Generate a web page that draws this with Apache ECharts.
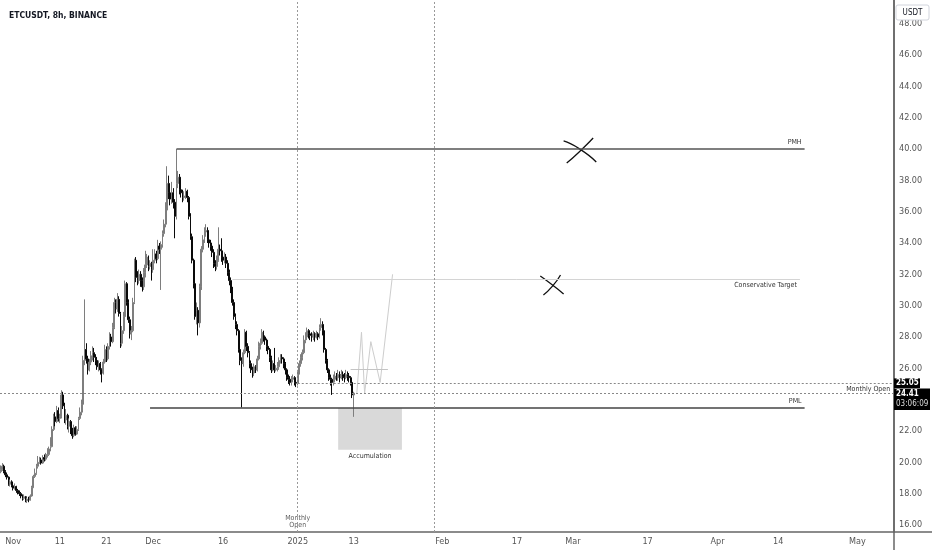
<!DOCTYPE html>
<html><head><meta charset="utf-8">
<script src="https://cdn.jsdelivr.net/npm/echarts@6/dist/echarts.min.js"></script>
<style>html,body{margin:0;padding:0;background:#fff}#c{width:932px;height:550px}</style>
</head><body><div id="c"></div>
<script>
// ETCUSDT 8h candles: [open, close, low, high], first candle 2024-10-29 08:00 UTC
const candles = [
[19.40,19.55,19.30,19.80],[19.55,19.75,19.45,19.95],[19.75,19.40,19.30,19.85],[19.40,19.20,19.05,19.50],
[19.20,19.05,18.90,19.35],[19.05,18.60,18.50,19.10],[18.60,18.75,18.45,18.90],[18.75,18.50,18.40,18.85],
[18.50,18.35,18.20,18.60],[18.35,18.45,18.25,18.65],[18.45,18.20,18.05,18.50],[18.20,18.05,17.95,18.30],
[18.05,18.00,17.85,18.20],[18.00,17.85,17.70,18.10],[17.85,17.70,17.55,17.95],[17.70,17.80,17.60,17.95],
[17.80,17.55,17.45,17.85],[17.55,17.65,17.40,17.75],[17.65,17.60,17.45,17.80],[17.60,17.85,17.55,17.95],
[17.85,18.40,17.80,18.50],[18.40,19.10,18.35,19.20],[19.10,19.30,19.00,19.60],[19.30,19.75,19.20,19.90],
[19.75,20.00,19.60,20.40],[20.00,20.15,19.90,20.35],[20.15,19.95,19.85,20.30],[19.95,20.30,19.90,20.45],
[20.30,20.20,20.05,20.50],[20.20,20.45,20.10,20.60],[20.45,20.50,20.30,20.90],[20.50,20.85,20.40,21.00],
[20.85,21.00,20.70,21.60],[21.00,22.10,20.95,22.30],[22.10,22.90,22.00,23.10],[22.90,22.60,22.30,23.20],
[22.60,23.30,22.50,23.60],[23.30,22.80,22.60,23.50],[22.80,22.90,22.50,23.10],[22.90,24.30,22.80,24.60],
[24.30,23.60,23.40,24.50],[23.60,22.70,22.50,23.80],[22.70,23.00,22.40,23.40],[23.00,22.30,22.10,23.10],
[22.30,22.60,21.90,22.80],[22.60,22.00,21.80,22.70],[22.00,21.70,21.50,22.20],[21.70,22.20,21.60,22.40],
[22.20,21.80,21.70,22.30],[21.80,22.10,21.75,22.30],[22.10,22.80,22.00,22.90],[22.80,23.20,22.70,23.50],
[23.20,23.70,23.00,24.00],[23.70,26.50,23.60,26.80],[26.50,27.20,26.20,30.40],[27.20,26.60,26.30,27.60],
[26.60,25.90,25.60,26.80],[25.90,26.40,25.80,26.60],[26.40,26.80,26.20,27.10],[26.80,27.00,26.50,27.40],
[27.00,26.70,26.40,27.30],[26.70,26.50,26.20,26.90],[26.50,26.10,25.90,26.70],[26.10,26.30,25.80,26.50],
[26.30,25.90,25.60,26.40],[25.90,25.70,25.10,26.00],[25.70,26.40,25.60,26.60],[26.40,27.20,26.30,27.50],
[27.20,26.60,26.40,27.40],[26.60,27.40,26.50,27.60],[27.40,28.00,27.20,28.30],[28.00,27.70,27.40,28.20],
[27.70,28.60,27.60,28.90],[28.60,30.20,28.50,30.50],[30.20,29.80,29.50,30.40],[29.80,30.40,29.60,30.80],
[30.40,29.50,29.30,30.60],[29.50,27.60,27.30,29.60],[27.60,28.40,27.40,28.70],[28.40,29.30,28.20,29.60],
[29.30,31.40,29.20,31.60],[31.40,30.20,30.00,31.50],[30.20,29.10,28.90,30.40],[29.10,28.20,27.90,29.30],
[28.20,28.40,27.80,28.70],[28.40,30.20,28.30,30.50],[30.20,32.90,30.10,33.00],[32.90,31.80,31.50,33.10],
[31.80,31.60,31.30,32.20],[31.60,32.00,31.40,32.30],[32.00,31.60,31.20,32.20],[31.60,31.20,30.90,31.80],
[31.20,32.10,31.00,32.40],[32.10,32.60,31.80,33.50],[32.60,33.10,32.40,33.30],[33.10,32.50,32.20,33.20],
[32.50,32.70,32.30,32.90],[32.70,32.30,31.60,32.80],[32.30,32.90,32.10,33.60],[32.90,33.30,32.70,33.60],
[33.30,33.00,32.70,33.50],[33.00,33.80,32.90,34.20],[33.80,33.60,33.30,34.00],[33.60,33.90,31.00,34.10],
[33.90,34.60,33.70,34.80],[34.60,35.20,34.40,35.50],[35.20,36.10,35.00,36.60],[36.10,37.80,36.00,38.90],
[37.80,37.20,36.80,38.30],[37.20,36.80,36.40,37.60],[36.80,37.20,36.50,37.90],[37.20,36.60,36.20,37.50],
[36.60,35.70,34.30,36.80],[35.70,37.80,35.50,40.00],[37.80,38.20,37.50,38.60],[38.20,37.40,37.10,38.40],
[37.40,37.20,36.90,37.70],[37.20,36.90,36.60,37.40],[36.90,37.00,36.70,37.30],[37.00,37.30,36.80,37.50],
[37.30,36.90,36.60,37.40],[36.90,35.70,35.50,37.00],[35.70,34.40,34.20,35.90],[34.40,32.90,32.70,34.60],
[32.90,31.40,31.10,33.00],[31.40,29.30,29.10,31.50],[29.30,29.70,28.80,30.20],[29.70,28.90,28.10,29.90],
[28.90,31.20,28.60,31.40],[31.20,33.60,31.00,33.80],[33.60,34.20,33.40,34.50],[34.20,34.70,34.00,35.00],
[34.70,34.80,34.40,35.20],[34.80,34.20,34.00,35.00],[34.20,34.00,33.70,34.50],[34.00,33.80,33.50,34.20],
[33.80,33.40,33.10,34.00],[33.40,32.70,32.40,33.60],[32.70,32.50,32.20,32.90],[32.50,32.90,32.30,33.20],
[32.90,33.60,32.80,35.00],[33.60,33.50,33.20,33.90],[33.50,33.10,32.80,34.30],[33.10,32.90,32.60,33.30],
[32.90,33.10,32.70,33.40],[33.10,32.70,32.40,33.30],[32.70,32.10,31.90,32.90],[32.10,31.60,31.30,32.30],
[31.60,31.00,30.80,31.80],[31.00,30.20,30.00,31.20],[30.20,29.30,29.10,30.40],[29.30,28.80,28.50,29.50],
[28.80,28.40,28.10,29.00],[28.40,27.20,27.00,28.50],[27.20,26.50,26.20,27.40],[26.50,26.30,23.50,26.70],
[26.30,27.00,26.10,27.20],[27.00,28.30,26.90,28.50],[28.30,27.40,27.10,28.40],[27.40,27.00,26.70,27.60],
[27.00,26.30,26.00,27.10],[26.30,25.90,25.70,26.50],[25.90,25.70,25.40,26.10],[25.70,26.10,25.50,26.30],
[26.10,25.90,25.70,26.20],[25.90,26.60,25.80,26.80],[26.60,27.40,26.50,27.70],[27.40,27.60,27.20,27.90],
[27.60,28.30,27.50,28.50],[28.30,28.00,27.70,28.40],[28.00,27.80,27.50,28.10],[27.80,27.40,27.10,27.90],
[27.40,27.20,26.90,27.50],[27.20,26.70,26.40,27.30],[26.70,25.90,25.70,26.80],[25.90,26.30,25.80,26.50],
[26.30,25.90,25.70,27.30],[25.90,26.00,25.80,26.20],[26.00,26.10,25.80,26.40],[26.10,26.50,25.90,26.70],
[26.50,26.70,26.30,26.90],[26.70,26.60,26.30,26.90],[26.60,26.30,26.00,26.70],[26.30,25.90,25.60,26.40],
[25.90,25.40,25.20,26.00],[25.40,25.30,25.00,25.60],[25.30,25.10,24.90,25.50],[25.10,25.30,24.90,25.50],
[25.30,25.40,25.10,25.60],[25.40,25.10,24.90,25.50],[25.10,25.05,24.80,25.40],[25.05,25.70,24.90,25.90],
[25.70,26.30,25.60,26.50],[26.30,26.70,26.10,26.90],[26.70,27.00,26.50,27.20],[27.00,27.80,26.90,28.10],
[27.80,28.00,27.60,28.30],[28.00,28.40,27.80,28.60],[28.40,28.20,27.90,28.50],[28.20,28.10,27.80,28.40],
[28.10,28.00,27.70,28.30],[28.00,28.20,27.80,28.40],[28.20,28.00,27.70,28.30],[28.00,28.20,27.90,28.40],
[28.20,28.00,27.80,28.30],[28.00,28.60,27.90,28.80],[28.60,28.80,28.40,29.20],[28.80,28.40,28.10,29.00],
[28.40,27.20,27.00,28.50],[27.20,26.50,26.30,27.30],[26.50,25.90,25.70,26.60],[25.90,25.40,25.20,26.00],
[25.40,25.30,24.90,25.60],[25.30,25.10,24.30,25.40],[25.10,25.30,24.90,25.60],[25.30,25.50,25.10,25.80],
[25.50,25.40,25.20,25.70],[25.40,25.60,25.20,25.90],[25.60,25.40,25.10,25.80],[25.40,25.60,25.30,25.90],
[25.60,25.50,25.20,25.80],[25.50,25.40,25.10,25.70],[25.40,25.60,25.30,25.90],[25.60,25.50,25.20,25.80],
[25.50,25.40,25.10,25.70],[25.40,25.10,24.90,25.50],[25.10,24.30,24.10,25.20],[24.30,24.41,22.90,24.50]
];

// x-axis tick labels (category → text)
const xTickDates = ['2024-11-01 00','2024-11-11 00','2024-11-21 00','2024-12-01 00','2024-12-16 00','2025-01-01 00','2025-01-13 00','2025-02-01 00','2025-02-17 00','2025-03-01 00','2025-03-17 00','2025-04-01 00','2025-04-14 00','2025-05-01 00'];
const xTickLabels = ['Nov','11','21','Dec','16','2025','13','Feb','17','Mar','17','Apr','14','May'];
// y-axis tick labels
const yTickValues = [16,18,20,22,24,26,28,30,32,34,36,38,40,42,44,46,48];

// drawn levels
const levelPMH = 40.00, levelTarget = 31.70, levelPML = 23.47, monthlyOpen = 25.05, lastPrice = 24.41, projLevel = 25.96;
const accumTop = 23.47, accumBottom = 20.80;
// projection path (bar index, price)
const projIdx = [229,232,234,238,244,252];
const projVal = [24.41,28.30,24.40,27.70,25.10,32.00];
// hand drawn crosses (bar index, price) strokes
const crossStrokes = [
  [[362,40.51],[372,40.02],[383,39.17]],
  [[364,39.10],[372,39.81],[381,40.70]],
  [[347,31.89],[354,31.38],[362,30.75]],
  [[349,30.68],[355,31.26],[360,31.96]]
];

const NBARS = 575;
const cats = [];
const t0 = Date.UTC(2024,9,29,8);
for (let i=0;i<NBARS;i++){
  const d = new Date(t0 + i*8*3600*1000);
  const p = n => String(n).padStart(2,'0');
  cats.push(d.getUTCFullYear()+'-'+p(d.getUTCMonth()+1)+'-'+p(d.getUTCDate())+' '+p(d.getUTCHours()));
}
const tickMap = {};
xTickDates.forEach((d,i)=>tickMap[d]=xTickLabels[i]);

const FONT = '"Liberation Sans Narrow","DejaVu Sans Condensed","Liberation Sans",sans-serif';
const TXT = '#333';
const lblSmall = {show:true, fontSize:7, color:TXT, fontFamily:FONT, distance:3};

const chart = echarts.init(document.getElementById('c'), null, {renderer:'canvas'});

const series = [{
  type:'candlestick',
  data:candles,
  barWidth:1.4,
  itemStyle:{color:'#7e7e7e', borderColor:'#7e7e7e', color0:'#0a0a0a', borderColor0:'#0a0a0a', borderWidth:1},
  emphasis:{disabled:true},
  markLine:{
    symbol:['none','none'], silent:true, animation:false,
    label:{show:false},
    data:[
      [{coord:[cats[113],levelPMH], lineStyle:{color:'#555',width:1.5,type:'solid'}, label:Object.assign({},lblSmall,{formatter:'PMH',position:'insideEndTop'})},{coord:[cats[517],levelPMH]}],
      [{coord:[cats[149],levelTarget], lineStyle:{color:'#d4d4d4',width:1,type:'solid'}, label:Object.assign({},lblSmall,{formatter:'Conservative Target',position:'insideEndBottom'})},{coord:[cats[514],levelTarget]}],
      [{coord:[cats[96],levelPML], lineStyle:{color:'#444',width:1.5,type:'solid'}, label:Object.assign({},lblSmall,{formatter:'PML',position:'insideEndTop'})},{coord:[cats[517],levelPML]}],
      [{coord:[cats[191],monthlyOpen], lineStyle:{color:'#888',width:1,type:[2,2]}, label:Object.assign({},lblSmall,{formatter:'Monthly Open',position:'insideEndBottom'})},{coord:[cats[NBARS-1],monthlyOpen]}],
      {yAxis:lastPrice, lineStyle:{color:'#888',width:1,type:[2,2]}},
      [{coord:[cats[225],projLevel], lineStyle:{color:'#c4c4c4',width:1,type:'solid'}},{coord:[cats[249],projLevel]}],
      {xAxis:cats[191], lineStyle:{color:'#999',width:1,type:[2,2]}},
      {xAxis:cats[279], lineStyle:{color:'#999',width:1,type:[2,2]}}
    ]
  },
  markArea:{
    silent:true,
    data:[[{coord:[cats[217],accumTop], itemStyle:{color:'#d9d9d9'}, label:Object.assign({},lblSmall,{formatter:'Accumulation',position:'bottom',distance:3})},{coord:[cats[258],accumBottom]}]]
  }
},{
  type:'line', data:projIdx.map((ix,i)=>[cats[ix],projVal[i]]), symbol:'none', silent:true,
  lineStyle:{color:'#cdcdcd',width:1}
}];
crossStrokes.forEach(s=>series.push({type:'line', smooth:0.6, symbol:'none', silent:true,
  data:s.map(p=>[cats[p[0]],p[1]]), lineStyle:{color:'#111',width:1.3}}));
series.push({type:'scatter', symbolSize:0, silent:true,
  data:[[cats[191],16.22]],
  label:{show:true, position:'inside', formatter:'Monthly\nOpen', fontSize:7, lineHeight:7.5, color:TXT, fontFamily:FONT, backgroundColor:'#fff', padding:[1,0]}});

chart.setOption({
  animation:false,
  backgroundColor:'#fff',
  title:{text:'ETCUSDT, 8h, BINANCE', left:4, top:6, textStyle:{fontSize:8.5, fontWeight:'bold', color:'#131722', fontFamily:FONT}},
  grid:{left:0, right:38, top:0, bottom:18, containLabel:false},
  xAxis:{type:'category', data:cats, boundaryGap:true,
    axisLine:{lineStyle:{color:'#666',width:1.5}}, axisTick:{show:false}, splitLine:{show:false},
    axisLabel:{interval:(i,v)=>tickMap[v]!==undefined, formatter:v=>tickMap[v]||'', fontSize:9, color:'#555', margin:5, fontFamily:FONT, hideOverlap:false}
  },
  yAxis:{type:'value', position:'right', min:15.55, max:49.51, scale:true,
    axisLine:{show:true, lineStyle:{color:'#666',width:1.5}}, axisTick:{show:false}, splitLine:{show:false},
    axisLabel:{customValues:yTickValues, formatter:v=>v.toFixed(2), fontSize:9, color:'#555', margin:5, fontFamily:FONT, showMinLabel:true, showMaxLabel:true}
  },
  series:series
});

// price scale labels and frame
const yMO = chart.convertToPixel({yAxisIndex:0}, monthlyOpen);
const yLP = chart.convertToPixel({yAxisIndex:0}, lastPrice);
const axX = 894;
chart.setOption({graphic:[
  {type:'line', z:100, shape:{x1:axX,y1:0,x2:axX,y2:550}, style:{stroke:'#666',lineWidth:1.5}},
  {type:'line', z:100, shape:{x1:axX,y1:532,x2:932,y2:532}, style:{stroke:'#666',lineWidth:1.5}},
  {type:'rect', z:101, shape:{x:896,y:5,width:33,height:15,r:2}, style:{fill:'#fff',stroke:'#d1d4dc',lineWidth:1}},
  {type:'text', z:102, x:912.5, y:12.5, style:{text:'USDT', fontSize:8, fill:'#131722', fontFamily:FONT, align:'center', verticalAlign:'middle'}},
  {type:'rect', z:101, shape:{x:axX,y:yMO-4.8,width:26,height:9.6}, style:{fill:'#000'}},
  {type:'text', z:102, x:axX+2, y:yMO, style:{text:monthlyOpen.toFixed(2), fontSize:8, fontWeight:'bold', fill:'#fff', fontFamily:FONT, verticalAlign:'middle'}},
  {type:'rect', z:101, shape:{x:axX,y:yLP-4.8,width:36,height:21.5}, style:{fill:'#000'}},
  {type:'text', z:102, x:axX+2, y:yLP+0.5, style:{text:lastPrice.toFixed(2), fontSize:8, fontWeight:'bold', fill:'#fff', fontFamily:FONT, verticalAlign:'middle'}},
  {type:'text', z:102, x:axX+2, y:yLP+10.5, style:{text:'03:06:09', fontSize:8, fill:'#ddd', fontFamily:FONT, verticalAlign:'middle'}}
]});
</script>
</body></html>
